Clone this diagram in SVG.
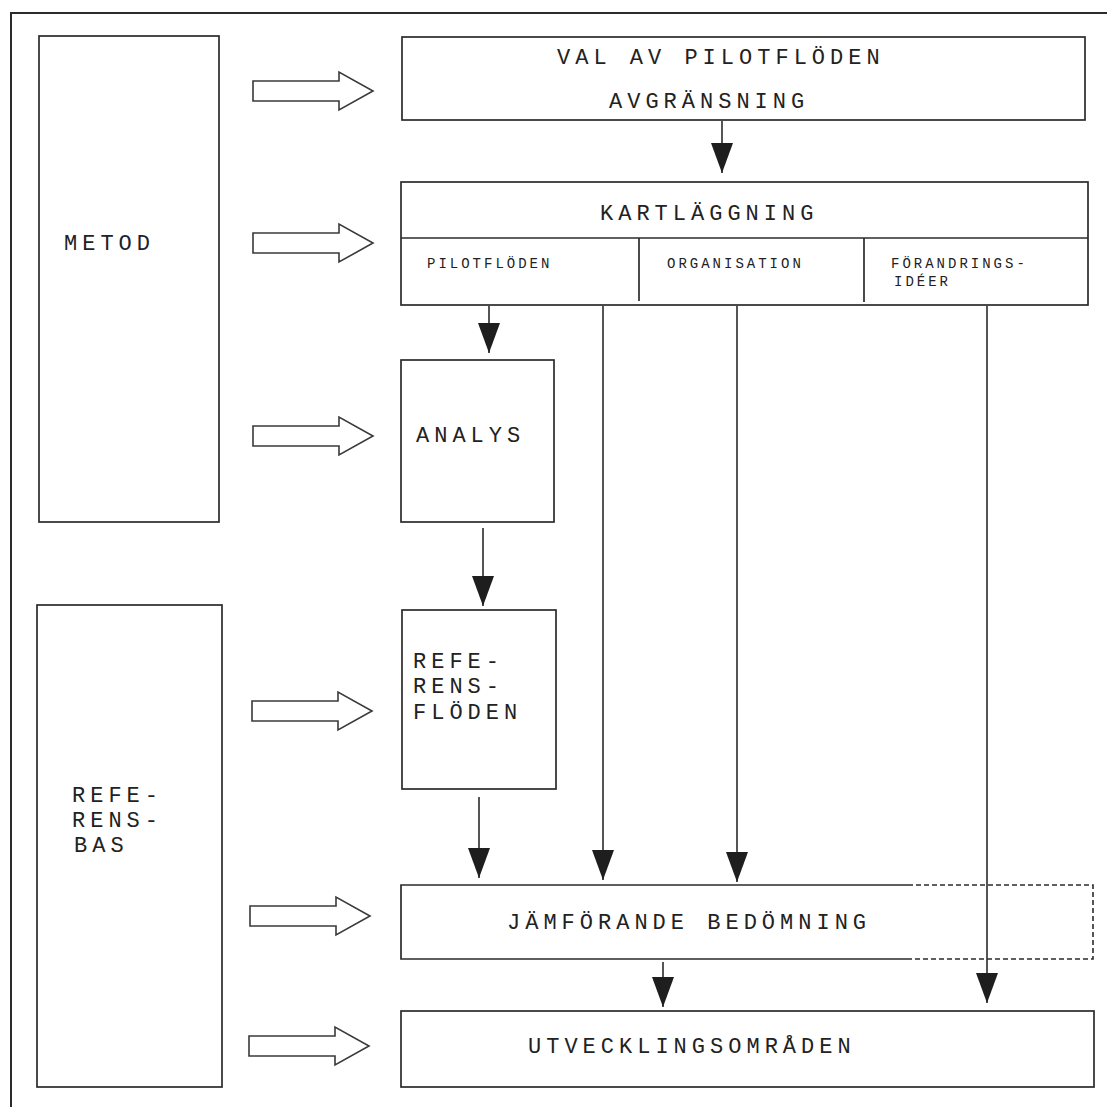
<svg xmlns="http://www.w3.org/2000/svg" width="1107" height="1107" viewBox="0 0 1107 1107">
  <style>
    .box { fill: none; stroke: #2b2b2b; stroke-width: 1.7; }
    .dash { fill: none; stroke: #2b2b2b; stroke-width: 1.6; stroke-dasharray: 5 3; }
    .hollow { fill: #ffffff; stroke: #3a3a3a; stroke-width: 1.6; stroke-linejoin: miter; }
    .conn { fill: none; stroke: #2b2b2b; stroke-width: 1.6; }
    .t { font-family: "Liberation Mono", "DejaVu Sans Mono", monospace; font-size: 22px; letter-spacing: 5px; fill: #222; }
    .s { font-family: "Liberation Mono", "DejaVu Sans Mono", monospace; font-size: 14px; letter-spacing: 3px; fill: #222; }
  </style>
  <defs>
    <marker id="head" markerUnits="userSpaceOnUse" markerWidth="30" markerHeight="22" refX="30" refY="11" orient="auto">
      <path d="M0,0 L30,11 L0,22 Z" fill="#1e1e1e"/>
    </marker>
    <!-- outlined block arrow, origin at left middle of the shaft -->
    <path id="blockArrow" class="hollow" d="M0,-10 H86 V-19 L120,0 L86,19 V10 H0 Z"/>
  </defs>

  <rect width="1107" height="1107" fill="#ffffff"/>

  <!-- page frame -->
  <rect x="11" y="13" width="1200" height="1200" fill="none" stroke="#2b2b2b" stroke-width="2"/>

  <g id="metod">
    <rect class="box" x="39" y="36" width="180" height="486"/>
    <text class="t" x="64" y="250">METOD</text>
  </g>

  <g id="referensbas">
    <rect class="box" x="37" y="605" width="185" height="482"/>
    <text class="t" x="72" y="802">REFE-</text>
    <text class="t" x="72" y="827">RENS-</text>
    <text class="t" x="74" y="852">BAS</text>
  </g>

  <g id="val">
    <rect class="box" x="402" y="37" width="683" height="83"/>
    <text class="t" x="557" y="64">VAL AV PILOTFLÖDEN</text>
    <text class="t" x="609" y="108">AVGRÄNSNING</text>
  </g>

  <g id="kartlaggning">
    <rect class="box" x="401" y="182" width="687" height="123"/>
    <line class="box" x1="401" y1="238" x2="1088" y2="238"/>
    <line class="box" x1="639" y1="238" x2="639" y2="301"/>
    <line class="box" x1="864" y1="238" x2="864" y2="302"/>
    <text class="t" x="600" y="220">KARTLÄGGNING</text>
    <text class="s" x="427" y="268">PILOTFLÖDEN</text>
    <text class="s" x="667" y="268">ORGANISATION</text>
    <text class="s" x="891" y="268">FÖRANDRINGS-</text>
    <text class="s" x="894" y="286">IDÉER</text>
  </g>

  <g id="analys">
    <rect class="box" x="401" y="360" width="153" height="162"/>
    <text class="t" x="416" y="442">ANALYS</text>
  </g>

  <g id="referensfloden">
    <rect class="box" x="402" y="610" width="154" height="179"/>
    <text class="t" x="413" y="668">REFE-</text>
    <text class="t" x="413" y="693">RENS-</text>
    <text class="t" x="413" y="719">FLÖDEN</text>
  </g>

  <g id="jamforande">
    <path class="box" d="M908,885 H401 V959 H908"/>
    <path class="dash" d="M908,885 H1093 V959 H908"/>
    <text class="t" x="507" y="929">JÄMFÖRANDE BEDÖMNING</text>
  </g>

  <g id="utveckling">
    <rect class="box" x="401" y="1011" width="693" height="76"/>
    <text class="t" x="528" y="1053">UTVECKLINGSOMRÅDEN</text>
  </g>

  <!-- input arrows from the left-hand columns -->
  <g id="inputs">
    <use href="#blockArrow" x="253" y="91"/>
    <use href="#blockArrow" x="253" y="243"/>
    <use href="#blockArrow" x="253" y="436"/>
    <use href="#blockArrow" x="252" y="711"/>
    <use href="#blockArrow" x="250" y="916"/>
    <use href="#blockArrow" x="249" y="1046"/>
  </g>

  <g id="connectors">
    <line class="conn" x1="722" y1="121" x2="722" y2="173" marker-end="url(#head)"/>
    <line class="conn" x1="489" y1="306" x2="489" y2="353" marker-end="url(#head)"/>
    <line class="conn" x1="483" y1="528" x2="483" y2="606" marker-end="url(#head)"/>
    <line class="conn" x1="479" y1="797" x2="479" y2="878" marker-end="url(#head)"/>
    <line class="conn" x1="603" y1="306" x2="603" y2="880" marker-end="url(#head)"/>
    <line class="conn" x1="737" y1="306" x2="737" y2="882" marker-end="url(#head)"/>
    <line class="conn" x1="987" y1="306" x2="987" y2="1003" marker-end="url(#head)"/>
    <line class="conn" x1="663" y1="962" x2="663" y2="1007" marker-end="url(#head)"/>
  </g>
</svg>
